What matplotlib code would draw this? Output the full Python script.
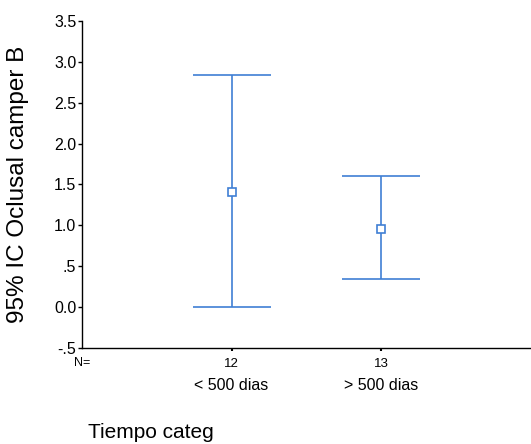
import matplotlib.pyplot as plt
import matplotlib.transforms as mtransforms

plt.rcParams['font.family'] = ['Liberation Sans', 'DejaVu Sans']

# datos
categorias = ['< 500 dias', '> 500 dias']
n_casos = [12, 13]
medias = [1.41, 0.96]
ic_inf = [0.0, 0.34]
ic_sup = [2.84, 1.60]
yticks = [-0.5, 0.0, 0.5, 1.0, 1.5, 2.0, 2.5, 3.0, 3.5]
ytick_labels = ['-.5', '0.0', '.5', '1.0', '1.5', '2.0', '2.5', '3.0', '3.5']

azul = '#3f7fd4'

fig = plt.figure(figsize=(5.31, 4.44), dpi=100)
ax = fig.add_axes([0.154, 0.216, 0.846, 0.737])

x = [1, 2]
err_low = [m - lo for m, lo in zip(medias, ic_inf)]
err_high = [hi - m for m, hi in zip(medias, ic_sup)]
ax.errorbar(x, medias, yerr=[err_low, err_high], fmt='s', color=azul,
            mfc='white', mec=azul, ms=6, mew=1.2, elinewidth=1.2,
            capsize=28, capthick=1.2)

ax.set_xlim(0, 3)
ax.set_ylim(-0.5, 3.5)
ax.spines['top'].set_visible(False)
ax.spines['right'].set_visible(False)
ax.spines['left'].set_linewidth(1)
ax.spines['bottom'].set_linewidth(1)

ax.set_yticks(yticks)
ax.set_yticklabels(ytick_labels, fontsize=11.5)
ax.tick_params(axis='y', length=3, width=1, pad=1)

ax.set_xticks(x)
ax.set_xticklabels([str(n) for n in n_casos], fontsize=9.5)
ax.tick_params(axis='x', length=2, width=1.5, pad=5)

trans = mtransforms.blended_transform_factory(ax.transData, ax.transAxes)
for xi, cat in zip(x, categorias):
    ax.text(xi, -0.115, cat, transform=trans, ha='center', va='center', fontsize=11.5)
ax.text(0, -0.045, 'N=', transform=trans, ha='center', va='center', fontsize=9)

ax.set_ylabel('95% IC Oclusal camper B', fontsize=17.5)
ax.yaxis.set_label_coords(-0.118, 0.5)

fig.text(0.166, 0.027, 'Tiempo categ', ha='left', va='center', fontsize=15)

fig.savefig('out.png', dpi=100)
